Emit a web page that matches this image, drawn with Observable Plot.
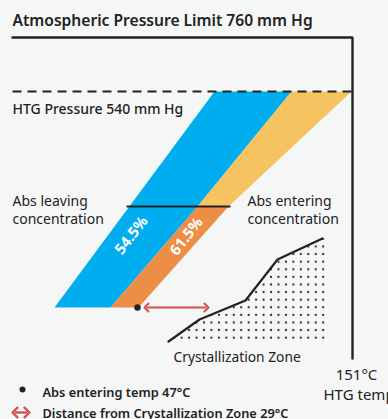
<!DOCTYPE html>
<html><head><meta charset="utf-8">
<script src="https://cdn.jsdelivr.net/npm/d3@7"></script>
<script src="https://cdn.jsdelivr.net/npm/@observablehq/plot@0.6"></script>
<style>html,body{margin:0;padding:0;background:#f5f6f6;} #chart{width:388px;height:419px;overflow:hidden}</style>
</head><body><div id="chart"></div>
<script>
// ---- Diagram values (diagram units: x to the right, y downward) ----
const blueX = [214, 291, 197, 110, 54];
const blueY = [91, 91, 206, 307, 307];
const yellowX = [291, 351, 228, 197];
const yellowY = [91, 91, 206, 206];
const orangeX = [197, 228, 138, 110];
const orangeY = [206, 206, 307, 307];
const curveX = [168, 199, 245, 277, 322];
const curveY = [341, 319, 300, 259, 238];
const zoneX = [168, 199, 245, 277, 322, 325, 325, 168];
const zoneY = [341, 319, 300, 259, 238, 238, 340, 341];
const frameX = [12, 352, 352];
const frameY = [37, 37, 358];
const pressureLevels = [760, 540];           // mm Hg
const concentrations = ["54.5%", "61.5%"];
const temps = {entering: 47, distance: 29, htg: 151};

const titleText = `Atmospheric Pressure Limit ${pressureLevels[0]} mm Hg`;
const htgPressureText = `HTG Pressure ${pressureLevels[1]} mm Hg`;
const leavingText = "Abs leaving\nconcentration";
const enteringText = "Abs entering\nconcentration";
const zoneText = "Crystallization Zone";
const htgTempLines = [`${temps.htg}°C`, "HTG temp"];
const legendTexts = [`Abs entering temp ${temps.entering}°C`, `Distance from Crystallization Zone ${temps.distance}°C`];

// ---- build point tables ----
const pts = (xs, ys) => xs.map((x, i) => ({x, y: ys[i]}));
const blue = pts(blueX, blueY), yellow = pts(yellowX, yellowY), orange = pts(orangeX, orangeY);
const curve = pts(curveX, curveY), zone = pts(zoneX, zoneY), frame = pts(frameX, frameY);

const ink = "#222222";
const red = "#d6504f";
const font = "'Noto Sans', sans-serif";

const plot = Plot.plot({
  width: 388, height: 419,
  marginTop: 0, marginRight: 0, marginBottom: 0, marginLeft: 0,
  x: {domain: [0, 388], range: [0, 388], axis: null},
  y: {domain: [0, 419], range: [0, 419], axis: null},
  style: {background: "#f5f6f6", fontFamily: font, color: ink},
  marks: [
    Plot.line(blue, {x: "x", y: "y", fill: "#00aeef", stroke: "none"}),
    Plot.line(yellow, {x: "x", y: "y", fill: "#f5c35f", stroke: "none"}),
    Plot.line(orange, {x: "x", y: "y", fill: "#ec8e46", stroke: "none"}),
    Plot.line(zone, {x: "x", y: "y", fill: "url(#dots)", stroke: "none"}),
    Plot.line(curve, {x: "x", y: "y", stroke: ink, strokeWidth: 2.2, strokeLinejoin: "miter"}),
    Plot.line(frame, {x: "x", y: "y", stroke: ink, strokeWidth: 2.4, strokeLinejoin: "miter"}),
    Plot.link([{x1: 12, x2: 352, y: 91}], {x1: "x1", x2: "x2", y1: "y", y2: "y", stroke: ink, strokeWidth: 2, strokeDasharray: "9,6"}),
    Plot.link([{x1: 126, x2: 230, y: 206}], {x1: "x1", x2: "x2", y1: "y", y2: "y", stroke: ink, strokeWidth: 2.2}),
    Plot.link([{x1: 146, x2: 206, y: 307}], {x1: "x1", x2: "x2", y1: "y", y2: "y", stroke: red, strokeWidth: 2, markerStart: "arrow-reverse", markerEnd: "arrow"}),
    Plot.dot([{x: 137, y: 307}], {x: "x", y: "y", r: 3.2, fill: ink, stroke: "none"}),
    // concentration labels
    Plot.text(concentrations.map((t, i) => ({t, x: [131, 186][i], y: [235, 236][i]})), {x: "x", y: "y", text: "t", rotate: -52, fill: "white", fontSize: 15, fontWeight: 700}),
    // texts
    Plot.text([{t: titleText, x: 12, y: 25}], {x: "x", y: "y", text: "t", textAnchor: "start", lineAnchor: "bottom", fontSize: 15.6, fontWeight: 600}),
    Plot.text([{t: htgPressureText, x: 12, y: 113}], {x: "x", y: "y", text: "t", textAnchor: "start", lineAnchor: "bottom", fontSize: 14, fontWeight: 500}),
    Plot.text([{t: leavingText, x: 12, y: 223}, {t: enteringText, x: 247, y: 223}], {x: "x", y: "y", text: "t", textAnchor: "start", lineAnchor: "bottom", fontSize: 14, lineHeight: 1.28}),
    Plot.text([{t: zoneText, x: 173, y: 361}], {x: "x", y: "y", text: "t", textAnchor: "start", lineAnchor: "bottom", fontSize: 13.8}),
    Plot.text([{t: htgTempLines[0], x: 356, y: 379}], {x: "x", y: "y", text: "t", textAnchor: "middle", lineAnchor: "bottom", fontSize: 15}),
    Plot.text([{t: htgTempLines[1], x: 323, y: 399}], {x: "x", y: "y", text: "t", textAnchor: "start", lineAnchor: "bottom", fontSize: 15}),
    // legend
    Plot.dot([{x: 22, y: 389}], {x: "x", y: "y", r: 3, fill: ink, stroke: "none"}),
    Plot.link([{x1: 14.5, x2: 26.5, y: 412}], {x1: "x1", x2: "x2", y1: "y", y2: "y", stroke: red, strokeWidth: 2.4, markerStart: "arrow-reverse", markerEnd: "arrow"}),
    Plot.text(legendTexts.map((t, i) => ({t, x: 42, y: [396, 417.5][i]})), {x: "x", y: "y", text: "t", textAnchor: "start", lineAnchor: "bottom", fontSize: 12.8, fontWeight: 600})
  ]
});

// dot texture for the crystallization zone
const ns = "http://www.w3.org/2000/svg";
const defs = document.createElementNS(ns, "defs");
defs.innerHTML = `<pattern id="dots" patternUnits="userSpaceOnUse" x="318.95" y="242.2" width="7.45" height="7.6"><circle cx="3.72" cy="3.8" r="1.1" fill="${ink}"/></pattern>`;
plot.insertBefore(defs, plot.firstChild);
document.getElementById("chart").appendChild(plot);
</script></body></html>
